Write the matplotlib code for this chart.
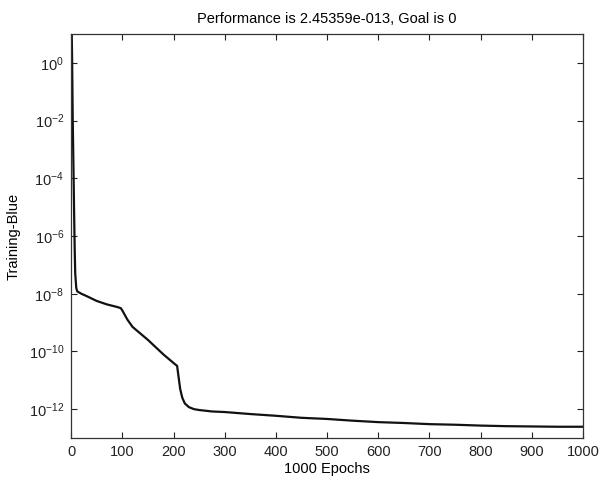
import numpy as np
import matplotlib
matplotlib.use("Agg")
import matplotlib.pyplot as plt

# Training record (log10 of the performance)
epochs = [0, 1, 2, 3, 4, 5, 6, 7, 8, 10, 12, 20, 30, 50, 70, 90, 97, 100,
          110, 120, 150, 180, 200, 207, 210, 213, 217, 222, 230, 240, 250,
          275, 300, 350, 400, 450, 500, 550, 600, 650, 700, 750, 800, 850,
          900, 950, 1000]
log_perf = [1.5, 1.2, 0.0, -1.8, -3.0, -4.2, -5.4, -6.5, -7.3, -7.8, -7.92,
            -8.0, -8.08, -8.25, -8.37, -8.46, -8.5, -8.58, -8.9, -9.15, -9.6,
            -10.1, -10.4, -10.5, -10.9, -11.3, -11.6, -11.8, -11.93, -12.0,
            -12.03, -12.08, -12.1, -12.17, -12.23, -12.3, -12.34, -12.4,
            -12.45, -12.48, -12.52, -12.54, -12.57, -12.59, -12.6, -12.61,
            -12.61]
x_ticks = [0, 100, 200, 300, 400, 500, 600, 700, 800, 900, 1000]
y_exps = [0, -2, -4, -6, -8, -10, -12]

plt.rcParams['font.family'] = ['Liberation Sans', 'DejaVu Sans']
plt.rcParams['mathtext.default'] = 'regular'

fig = plt.figure(figsize=(6.08, 4.8), dpi=100)
ax = fig.add_axes([0.117, 0.0875, 0.842, 0.8415])

perf = 10.0 ** np.array(log_perf)
ax.semilogy(epochs, perf, color='#111111', linewidth=1.6)

ax.set_xlim(0, 1000)
ax.set_ylim(1e-13, 1e1)
ax.set_xticks(x_ticks)
ax.set_xticklabels([str(t) for t in x_ticks])
ax.set_yticks([10.0 ** e for e in y_exps])
ax.set_yticklabels(['$10^{%d}$' % e for e in y_exps])
ax.yaxis.set_minor_locator(matplotlib.ticker.NullLocator())
ax.tick_params(direction='in', top=True, right=True, length=4, width=0.8,
               labelsize=10.5, colors='#222222', pad=5)
for s in ax.spines.values():
    s.set_linewidth(0.9)
    s.set_color('#333333')

ax.set_title('Performance is 2.45359e-013, Goal is 0', fontsize=10.5, pad=8)
ax.set_xlabel('1000 Epochs', fontsize=10.5, labelpad=2)
ax.set_ylabel('Training-Blue', fontsize=10.5, labelpad=6)

fig.savefig('out.png', dpi=100)
